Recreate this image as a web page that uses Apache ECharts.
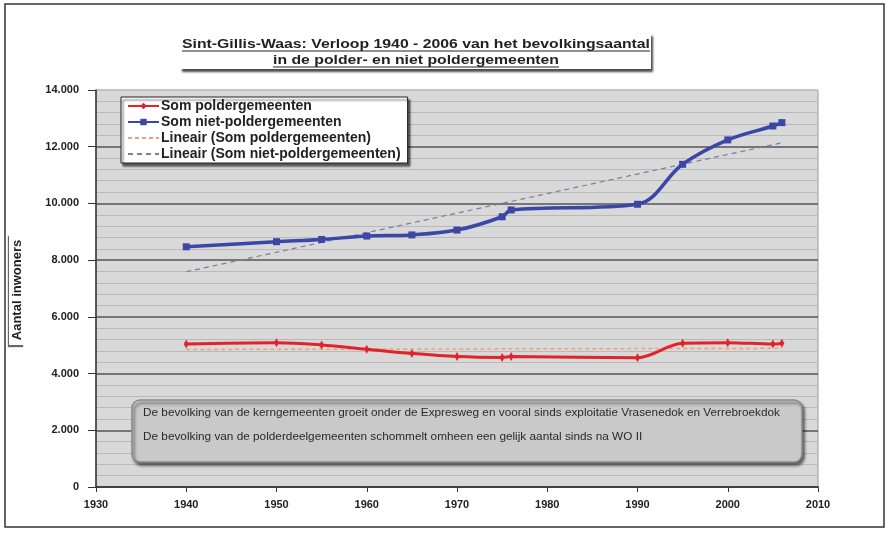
<!DOCTYPE html>
<html>
<head>
<meta charset="utf-8">
<script src="https://cdn.jsdelivr.net/npm/echarts@6/dist/echarts.min.js"></script>
<style>
html,body{margin:0;padding:0;background:#fff;}
#c{width:889px;height:535px;}
</style>
</head>
<body>
<div id="c"></div>
<script>
// ---- data ----
const years = [1940, 1950, 1955, 1960, 1965, 1970, 1975, 1976, 1990, 1995, 2000, 2005, 2006];
const polder = [5040, 5090, 5010, 4860, 4710, 4600, 4570, 4600, 4560, 5070, 5090, 5040, 5070];
const nietPolder = [8470, 8650, 8730, 8850, 8890, 9060, 9530, 9770, 9970, 11380, 12240, 12730, 12850];
const trendYears = [1940, 2006];
const polderTrend = [4850, 4890];
const nietPolderTrend = [7590, 12140];
const seriesNames = ['Som poldergemeenten', 'Som niet-poldergemeenten', 'Lineair (Som poldergemeenten)', 'Lineair (Som niet-poldergemeenten)'];
const titleLines = ['Sint-Gillis-Waas: Verloop 1940 - 2006 van het bevolkingsaantal', 'in de polder- en niet poldergemeenten'];
const yAxisName = 'Aantal inwoners';
const noteLines = [
  'De bevolking van de kerngemeenten groeit onder de Expresweg en vooral sinds exploitatie Vrasenedok en Verrebroekdok',
  'De bevolking van de polderdeelgemeenten schommelt omheen een gelijk aantal sinds na WO II'
];

const pairs = (xs, ys) => xs.map((x, i) => [x, ys[i]]);
const fmt = v => String(v).replace(/\B(?=(\d{3})+(?!\d))/g, '.');

const FONT = '"Liberation Sans", Arial, sans-serif';
const mctx = document.createElement('canvas').getContext('2d');
function textW(str, font) { mctx.font = font; return mctx.measureText(str).width; }

const graphics = [];
// outer frame
graphics.push({type:'rect', shape:{x:5,y:4,width:879,height:523}, style:{fill:'none', stroke:'#333', lineWidth:1.5}, z:0});
// title box with shadow
graphics.push({type:'rect', shape:{x:180,y:33,width:471,height:36}, style:{fill:'#fff', shadowColor:'rgba(0,0,0,0.7)', shadowOffsetX:2, shadowOffsetY:3, shadowBlur:2}, z:1});
const titleFont = 'bold 13px ' + FONT;
const tcx = 416;
const titleSX = 468 / textW(titleLines[0], titleFont);
[44, 60].forEach((y, i) => {
  const w = textW(titleLines[i], titleFont) * titleSX;
  graphics.push({type:'text', x:tcx, y:y, scaleX:titleSX, style:{text:titleLines[i], font:titleFont, fill:'#222', align:'center', verticalAlign:'middle'}, z:2});
  graphics.push({type:'line', shape:{x1:tcx - w/2, y1:y+7, x2:tcx + w/2, y2:y+7}, style:{stroke:'#222', lineWidth:1}, z:2});
});
// y axis name with its box shadow
graphics.push({type:'rect', shape:{x:9,y:234,width:15,height:111}, style:{fill:'#fff', shadowColor:'rgba(0,0,0,0.6)', shadowOffsetX:-1, shadowOffsetY:2, shadowBlur:1}, z:1});
graphics.push({type:'text', x:17, y:290, rotation:Math.PI/2, style:{text:yAxisName, font:'bold 13px ' + FONT, fill:'#222', align:'center', verticalAlign:'middle'}, z:3});
// annotation box
graphics.push({type:'rect', shape:{x:132,y:400,width:670,height:62,r:8}, style:{fill:'#c9c9c9', stroke:'#8a8a8a', lineWidth:1.5, shadowColor:'rgba(0,0,0,0.55)', shadowOffsetX:2, shadowOffsetY:3, shadowBlur:3}, z:50});
const noteFont = '11px ' + FONT;
const noteSX = 637 / textW(noteLines[0], noteFont);
graphics.push({type:'text', x:143, y:413, scaleX:noteSX, style:{text:noteLines[0], font:noteFont, fill:'#2a2a2a', verticalAlign:'middle'}, z:51});
graphics.push({type:'text', x:143, y:437, scaleX:noteSX, style:{text:noteLines[1], font:noteFont, fill:'#2a2a2a', verticalAlign:'middle'}, z:51});

const splitColors = ['#555','#555','#555','#555','#555','#555','#555','#c4c4c4'];

const chart = echarts.init(document.getElementById('c'), null, {renderer:'canvas'});
chart.setOption({
  backgroundColor:'#fff',
  animation:false,
  graphic: graphics,
  grid:{left:96, right:71, top:90, bottom:48, show:true, backgroundColor:'#d9d9d9', borderColor:'#9a9a9a', borderWidth:1},
  legend:{
    data: [
      {name:seriesNames[0]},
      {name:seriesNames[1]},
      {name:seriesNames[2], itemStyle:{opacity:0}},
      {name:seriesNames[3], itemStyle:{opacity:0}}
    ],
    orient:'vertical', left:121, top:97,
    itemWidth:31, itemHeight:8, itemGap:2,
    padding:[2,7,2,6],
    backgroundColor:'#fff', borderColor:'#222', borderWidth:1,
    shadowColor:'rgba(0,0,0,0.6)', shadowOffsetX:2, shadowOffsetY:3, shadowBlur:2,
    textStyle:{fontFamily:FONT, fontWeight:'bold', fontSize:14, color:'#222', padding:[0,0,0,-3]}
  },
  xAxis:{
    type:'value', min:1930, max:2010, interval:10,
    axisLine:{show:true, onZero:false, lineStyle:{color:'#333', width:1.5}},
    axisTick:{show:true, inside:false, length:5, lineStyle:{color:'#333'}},
    axisLabel:{fontFamily:FONT, fontWeight:'bold', fontSize:11, color:'#222', margin:12, formatter: v => String(v)},
    splitLine:{show:false}
  },
  yAxis:{
    type:'value', min:0, max:14000, interval:2000,
    axisLine:{show:true, lineStyle:{color:'#333', width:1.5}},
    axisTick:{show:true, inside:false, length:8, lineStyle:{color:'#333'}},
    axisLabel:{fontFamily:FONT, fontWeight:'bold', fontSize:11, color:'#222', margin:17, formatter: v => fmt(v)},
    splitLine:{show:true, lineStyle:{color:splitColors, width:1.5}},
    minorTick:{show:false, splitNumber:5},
    minorSplitLine:{show:true, lineStyle:{color:'#b9b9b9', width:1}}
  },
  series:[
    {name:seriesNames[0], type:'line', data:pairs(years, polder), smooth:0.35,
     symbol:'diamond', symbolSize:[5,9], color:'#e0242c',
     lineStyle:{color:'#e0242c', width:3}, itemStyle:{color:'#e0242c'}, z:5},
    {name:seriesNames[1], type:'line', data:pairs(years, nietPolder), smooth:0.35,
     symbol:'rect', symbolSize:7, color:'#3a47a6',
     lineStyle:{color:'#3a47a6', width:3.5}, itemStyle:{color:'#3a47a6'}, z:6},
    {name:seriesNames[2], type:'line', data:pairs(trendYears, polderTrend),
     symbol:'none', color:'#f0a07a',
     lineStyle:{color:'#f0a07a', width:1.5, type:[4,3]}, z:4},
    {name:seriesNames[3], type:'line', data:pairs(trendYears, nietPolderTrend),
     symbol:'none', color:'#7b7ba3',
     lineStyle:{color:'#7b7ba3', width:1.2, type:[5,4]}, z:4}
  ]
});
</script>
</body>
</html>
